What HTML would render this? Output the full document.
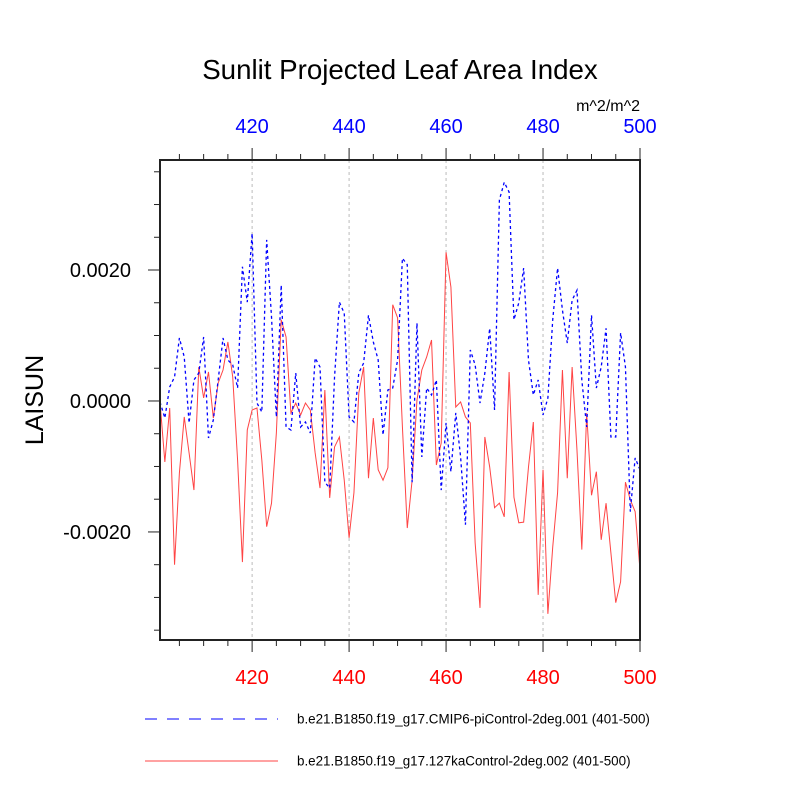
<!DOCTYPE html>
<html><head><meta charset="utf-8"><style>body{margin:0;background:#fff}svg{display:block}text{font-family:"Liberation Sans",sans-serif}</style></head>
<body>
<svg id="chart" width="800" height="800" xmlns="http://www.w3.org/2000/svg">
<text x="400" y="79" font-size="27.7" text-anchor="middle">Sunlit Projected Leaf Area Index</text>
<text x="640" y="111" font-size="16" text-anchor="end">m^2/m^2</text>
<text transform="translate(43,400) rotate(-90)" font-size="25" text-anchor="middle">LAISUN</text>
<g id="grid"></g><g id="series"></g><g id="axes"></g>
<g>
<line x1="145" y1="719" x2="278" y2="719" stroke="#00f" stroke-width="1" stroke-dasharray="12,10"/>
<text x="297" y="723.5" font-size="13.4">b.e21.B1850.f19_g17.CMIP6-piControl-2deg.001 (401-500)</text>
<line x1="145" y1="761" x2="278" y2="761" stroke="#f44" stroke-width="1"/>
<text x="297" y="765.5" font-size="13.4">b.e21.B1850.f19_g17.127kaControl-2deg.002 (401-500)</text>
</g>
</svg>
<script>
const years = Array.from({length:100},(_,i)=>401+i);
const blueVals = [-0.15,-2.60,2.14,3.66,9.62,6.72,-3.36,3.21,4.27,9.77,-5.65,-2.90,3.21,9.62,6.26,5.50,1.98,20.5,15.1,25.6,-0.31,-1.68,24.6,12.8,-2.44,17.7,-3.97,-4.43,4.27,-3.97,-3.21,-4.89,6.56,5.19,-12.4,-13.3,3.66,15.1,13.4,-2.44,-3.21,4.27,5.80,13.1,9.01,6.26,-5.19,1.68,1.98,6.26,21.8,20.8,-12.4,11.9,-8.55,1.98,0.92,3.21,-13.6,-3.36,-10.8,-1.83,-8.55,-18.9,7.79,5.50,-0.31,4.27,11.1,-1.37,30.7,33.4,31.9,12.4,15.0,20.3,6.26,0.92,3.21,-2.14,0.46,12.4,20.3,13.9,8.85,15.4,16.9,3.21,-3.97,13.1,1.98,5.19,11.1,-5.50,-5.50,10.4,5.19,-16.9,-8.70,-10.5];
const redVals = [-0.15,-9.31,-1.07,-25.0,-11.0,-2.44,-7.94,-13.6,5.19,0.46,4.43,-2.60,2.75,4.73,9.01,3.66,-9.01,-24.6,-4.43,-1.37,-1.07,-9.01,-19.2,-15.6,-4.89,12.4,9.77,-1.83,-0.31,-2.14,-0.31,-1.37,-7.94,-13.3,1.68,-14.8,-7.02,-5.50,-12.1,-20.9,-14.0,1.22,5.19,-11.8,-2.60,-10.5,-12.1,-10.2,14.7,12.7,-3.97,-19.4,-12.1,0.15,4.73,6.72,9.31,-9.77,-6.41,22.7,17.4,-0.92,-0.15,-2.44,-3.36,-21.7,-31.6,-5.50,-10.1,-16.3,-15.6,-17.7,4.43,-14.7,-18.6,-18.5,-10.1,-3.21,-29.6,-10.5,-32.5,-22.3,-14.0,4.73,-11.8,5.19,-7.48,-22.7,-1.83,-14.4,-10.8,-21.2,-15.6,-23.2,-30.8,-27.6,-12.4,-15.1,-16.9,-25.8];
const xTicks = [420,440,460,480,500];
const yTicks = [0.002,0,-0.002];
const yTickLabels = ["0.0020","0.0000","-0.0020"];
const SCALE = 1e-4;
const NS='http://www.w3.org/2000/svg';
const L=160,R=640,T=160,B=640;
const xMin=401,xMax=500,yMax=0.00368,yMin=-0.00365;
const X=v=>L+(v-xMin)/(xMax-xMin)*(R-L);
const Y=v=>T+(yMax-v)/(yMax-yMin)*(B-T);
function mk(tag,attrs,parent){const e=document.createElementNS(NS,tag);for(const k in attrs)e.setAttribute(k,attrs[k]);parent.appendChild(e);return e;}
const grid=document.getElementById('grid'),series=document.getElementById('series'),axes=document.getElementById('axes');
xTicks.slice(0,4).forEach(t=>{const l=mk('line',{x1:X(t),x2:X(t),y1:T,y2:B,stroke:'#bbb','stroke-dasharray':'3,3'},grid);

});
function path(vals,color,dash,name){const d=vals.map((v,i)=>(i?'L':'M')+X(years[i]).toFixed(2)+','+Y(v*SCALE).toFixed(2)).join('');
const p=mk('path',{d:d,fill:'none',stroke:color,'stroke-width':dash?1.3:1},series);if(dash)p.setAttribute('stroke-dasharray','3,3');

}
path(redVals,'#f44',false,'series-127ka-line');
path(blueVals,'#00f',true,'series-picontrol-line');
const fr=mk('rect',{x:L,y:T,width:R-L,height:B-T,fill:'none',stroke:'#222','stroke-width':2},axes);


for(let yr=405;yr<=500;yr+=5){const maj=yr%20===0;const len=maj?12:6;
mk('line',{x1:X(yr),x2:X(yr),y1:T,y2:T-len,stroke:'#222','stroke-width':1},axes);
mk('line',{x1:X(yr),x2:X(yr),y1:B,y2:B+len,stroke:'#222','stroke-width':1},axes);}
for(let v=-0.0035;v<=0.00351;v+=0.0005){const maj=Math.abs(Math.round(v*10000))%20===0;const len=maj?12:6;
mk('line',{x1:L,x2:L-len,y1:Y(v),y2:Y(v),stroke:'#222','stroke-width':1},axes);}
xTicks.forEach(t=>{const a=mk('text',{x:X(t),y:133,'font-size':20,fill:'#00f','text-anchor':'middle'},axes);a.textContent=t;


const b=mk('text',{x:X(t),y:684,'font-size':20,fill:'#f00','text-anchor':'middle'},axes);b.textContent=t;

});
yTicks.forEach((t,i)=>{const a=mk('text',{x:131,y:Y(t)+7,'font-size':20,'text-anchor':'end'},axes);a.textContent=yTickLabels[i];

});
</script>
</body></html>
